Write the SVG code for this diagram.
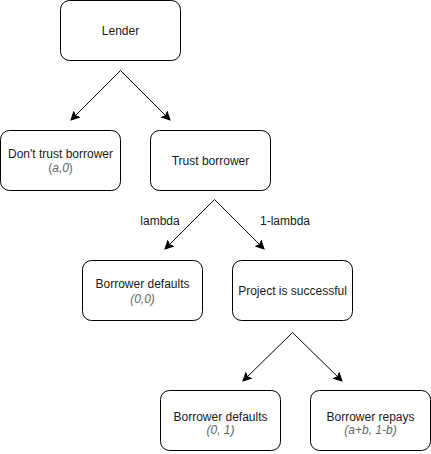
<svg xmlns="http://www.w3.org/2000/svg" width="431" height="454" viewBox="0 0 431 454">
<defs>
<marker id="arr" markerWidth="10" markerHeight="10" refX="8" refY="5" orient="auto" markerUnits="userSpaceOnUse">
<path d="M0,1 L8,5 L0,9 L2,5 Z" fill="#000" stroke="#000" stroke-width="1"/>
</marker>
</defs>
<style>
.box{fill:#fff;stroke:#000;stroke-width:1}
.t{font-family:"Liberation Sans",Arial,sans-serif;font-size:12px;fill:#1a1a1a;text-anchor:middle}
.i{font-style:italic;fill:#666}
.p{fill:#666}
.c{stroke:#000;stroke-width:1;fill:none;marker-end:url(#arr)}
</style>
<rect width="431" height="454" fill="#fff"/>
<g id="connectors">
<line class="c" x1="120.5" y1="70.5" x2="71" y2="120"/>
<line class="c" x1="120.5" y1="70.5" x2="170" y2="120"/>
<line class="c" x1="214.5" y1="199.5" x2="165" y2="249"/>
<line class="c" x1="214.5" y1="199.5" x2="264" y2="249"/>
<line class="c" x1="292.5" y1="332.5" x2="243" y2="381"/>
<line class="c" x1="292.5" y1="332.5" x2="342" y2="381"/>
<text class="t" x="160" y="225">lambda</text>
<text class="t" x="285" y="225">1-lambda</text>
</g>
<g id="lender">
<rect class="box" x="60.5" y="0.5" width="120" height="60" rx="9"/>
<text class="t" x="120.5" y="35">Lender</text>
</g>
<g id="dont-trust">
<rect class="box" x="0.5" y="130.5" width="120" height="60" rx="9"/>
<text class="t" x="60.5" y="158">Don't trust borrower</text>
<text class="t p" x="60.5" y="172">(<tspan class="i">a</tspan>,<tspan class="i">0</tspan>)</text>
</g>
<g id="trust">
<rect class="box" x="150.5" y="130.5" width="120" height="60" rx="9"/>
<text class="t" x="210.5" y="165">Trust borrower</text>
</g>
<g id="defaults1">
<rect class="box" x="82.5" y="260.5" width="120" height="60" rx="9"/>
<text class="t" x="142.5" y="288">Borrower defaults</text>
<text class="t i" x="142.5" y="303">(0,0)</text>
</g>
<g id="success">
<rect class="box" x="232.5" y="260.5" width="120" height="60" rx="9"/>
<text class="t" x="292.5" y="295">Project is successful</text>
</g>
<g id="defaults2">
<rect class="box" x="160.5" y="390.5" width="120" height="60" rx="9"/>
<text class="t" x="220.5" y="421">Borrower defaults</text>
<text class="t i" x="220.5" y="434">(0, 1)</text>
</g>
<g id="repays">
<rect class="box" x="310.5" y="390.5" width="120" height="60" rx="9"/>
<text class="t" x="370.5" y="421">Borrower repays</text>
<text class="t i" x="370.5" y="434">(a+b, 1-b)</text>
</g>
</svg>
